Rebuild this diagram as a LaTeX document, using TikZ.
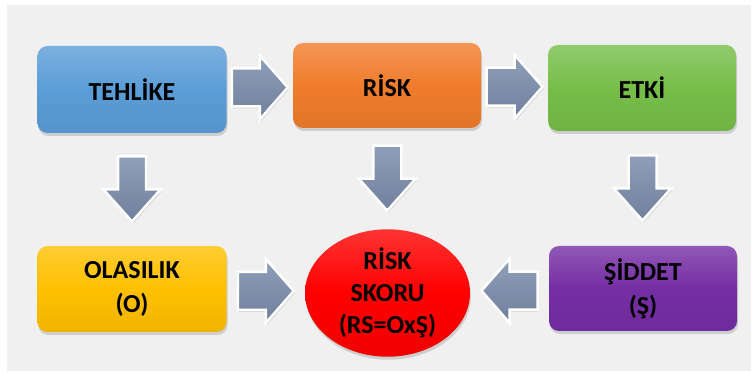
\documentclass[tikz,border=0pt]{standalone}
\usepackage{fontspec}
\setmainfont{Carlito}
\usetikzlibrary{shadows,calc,shapes.geometric}

\definecolor{bgpanel}{RGB}{240,240,240}
\definecolor{cblue}{RGB}{91,157,215}
\definecolor{corange}{RGB}{240,124,44}
\definecolor{cgreen}{RGB}{118,190,72}
\definecolor{cyellow}{RGB}{255,192,0}
\definecolor{cpurple}{RGB}{117,46,164}
\definecolor{cred}{RGB}{255,0,0}
\definecolor{arrtop}{RGB}{143,158,185}
\definecolor{arrbot}{RGB}{112,128,156}

\tikzset{
  box/.style={rounded corners=10pt, inner sep=0pt, align=center,
    minimum width=188pt, minimum height=86pt,
    font=\fontsize{26}{34}\selectfont\bfseries,
    drop shadow={shadow xshift=1pt, shadow yshift=-3pt, opacity=0.3}},
  tint/.style={top color=#1!80!white, bottom color=#1!94!black, middle color=#1},
  blockarrow/.style={draw=white, line width=2.5pt, line join=miter,
    top color=arrtop, bottom color=arrbot,
    drop shadow={shadow xshift=1pt, shadow yshift=-2pt, opacity=0.25}},
  harrow/.pic={\path[blockarrow] (-28,-19) -- (0,-19) -- (0,-32) -- (28,0)
      -- (0,32) -- (0,19) -- (-28,19) -- cycle;},
  varrow/.pic={\path[blockarrow] (-14,-33) -- (14,-33) -- (14,0) -- (28.5,0)
      -- (0,32) -- (-28.5,0) -- (-14,0) -- cycle;}
}

\begin{document}
\begin{tikzpicture}[x=1pt, y=-1pt]
  \useasboundingbox (0,0) rectangle (756,374);
  \fill[white] (0,0) rectangle (756,374);
  \fill[bgpanel] (7,5) rectangle (751,371);

  % boxes
  \node[box, tint=cblue, minimum width=189pt, minimum height=87pt] (teh) at (132,89.5) {TEHLİKE};
  \node[box, tint=corange, minimum height=85pt] (risk) at (387,85.5) {RİSK};
  \node[box, tint=cgreen] (etki) at (642,88) {ETKİ};
  \node[box, tint=cyellow, minimum width=189pt] (ola) at (132,289) {OLASILIK\\(O)};
  \node[box, tint=cpurple, minimum height=85pt] (sid) at (643,288.5) {ŞİDDET\\(Ş)};
  \node[ellipse, inner sep=0pt, minimum width=165pt, minimum height=114pt,
        align=center, font=\fontsize{26}{32}\selectfont\bfseries,
        tint=cred, drop shadow={shadow xshift=1pt, shadow yshift=-3pt, opacity=0.3}]
        (skor) at (387.5,293) {RİSK\\SKORU\\(RS=OxŞ)};

  % block arrows between the boxes
  \pic at ($(teh.east)!0.5!(risk.west)$) {harrow};
  \pic at ($(risk.east)!0.5!(etki.west)$) {harrow};
  \pic at ($(ola.east)!0.5!(skor.west)$) {harrow};
  \pic[rotate=180] at ($(sid.west)!0.5!(skor.east)$) {harrow};
  \pic at ($(teh.south)!0.5!(ola.north)$) {varrow};
  \pic at ($(risk.south)!0.5!(skor.north)$) {varrow};
  \pic at ($(etki.south)!0.5!(sid.north)$) {varrow};
\end{tikzpicture}
\end{document}
